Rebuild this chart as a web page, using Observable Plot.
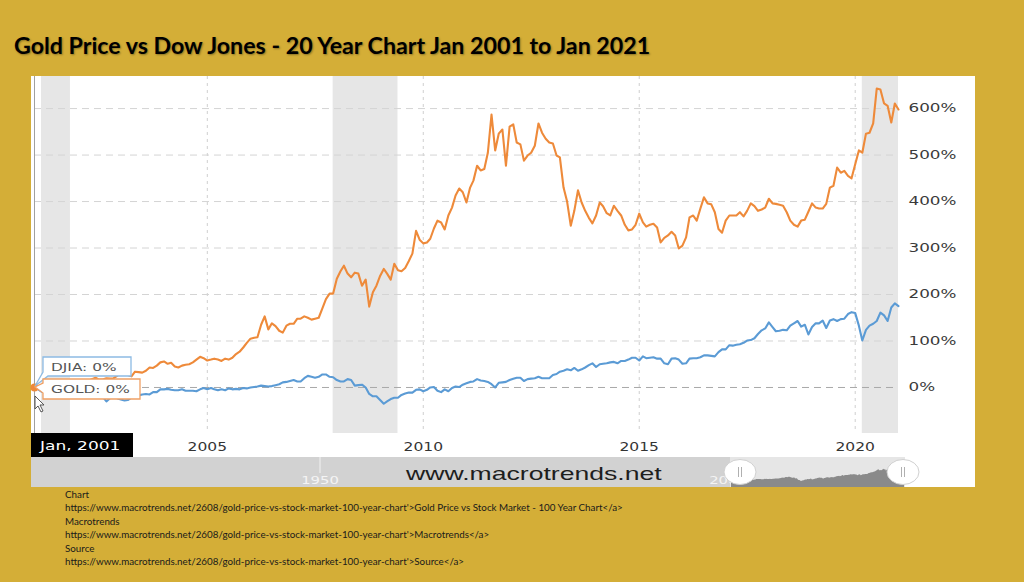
<!DOCTYPE html>
<html><head><meta charset="utf-8">
<script src="https://cdn.jsdelivr.net/npm/d3@7"></script>
<script src="https://cdn.jsdelivr.net/npm/@observablehq/plot@0.6"></script>
<style>
html,body{margin:0;padding:0;}
body{width:1024px;height:582px;background:#d4ae37;position:relative;overflow:hidden;font-family:"DejaVu Sans";}
#title{position:absolute;left:14px;top:31px;font:bold 23.2px Lato;color:#000;text-shadow:1px 1px 2px rgba(0,0,0,0.35);white-space:nowrap;}
#chart{position:absolute;left:31px;top:76px;width:944px;height:411px;background:#fff;}
#chart svg{position:absolute;left:0;top:0;}
#caption{position:absolute;left:65px;top:488px;font:9.8px Lato;line-height:13.4px;color:#1a1a1a;white-space:nowrap;}
</style></head><body>
<div id="title">Gold Price vs Dow Jones - 20 Year Chart Jan 2001 to Jan 2021</div>
<div id="chart"></div>
<div id="caption">Chart<br>https://www.macrotrends.net/2608/gold-price-vs-stock-market-100-year-chart'&gt;Gold Price vs Stock Market - 100 Year Chart&lt;/a&gt;<br>Macrotrends<br>https://www.macrotrends.net/2608/gold-price-vs-stock-market-100-year-chart'&gt;Macrotrends&lt;/a&gt;<br>Source<br>https://www.macrotrends.net/2608/gold-price-vs-stock-market-100-year-chart'&gt;Source&lt;/a&gt;</div>
<script>
// Monthly % change since Jan 2001 (Jan 2001 .. Jan 2021)
const goldPct = [
  0, -1, -1, -2, 3, 2, 1, 3, 7, 7, 4, 4,
  6, 11, 11, 14, 18, 21, 17, 17, 20, 19, 20, 25,
  34, 32, 27, 24, 34, 33, 32, 36, 43, 42, 47, 54,
  56, 51, 53, 45, 43, 47, 49, 50, 54, 60, 66, 63,
  58, 60, 62, 60, 57, 62, 60, 64, 72, 77, 86, 96,
  105, 107, 108, 135, 153, 125, 138, 132, 122, 118, 133, 137,
  137, 148, 148, 153, 150, 146, 148, 150, 170, 190, 202, 202,
  234, 250, 262, 245, 237, 247, 245, 219, 232, 174, 205, 219,
  240, 255, 245, 232, 266, 252, 250, 257, 272, 288, 337, 318,
  310, 312, 320, 342, 359, 355, 340, 370, 387, 413, 428, 420,
  398, 430, 445, 477, 467, 470, 505, 587, 510, 546, 555, 477,
  561, 566, 527, 523, 488, 499, 505, 520, 568, 548, 535, 527,
  525, 499, 495, 430, 400, 348, 380, 424, 398, 380, 365, 353,
  370, 398, 390, 375, 370, 391, 380, 370, 350, 338, 340, 350,
  374, 355, 346, 350, 352, 344, 312, 322, 327, 335, 327, 299,
  305, 323, 366, 370, 359, 385, 409, 396, 394, 377, 341, 333,
  359, 370, 370, 370, 377, 368, 380, 396, 390, 380, 383, 387,
  406, 396, 395, 393, 391, 377, 359, 350, 346, 359, 361, 378,
  396, 387, 385, 385, 395, 430, 434, 473, 462, 466, 455, 450,
  480, 510, 505, 546, 548, 568, 643, 641, 611, 606, 570, 611,
  598
];
const djiaPct = [
  0, -4, -9, -1, 0, -4, -3, -9, -19, -17, -10, -8,
  -9, -7, -4, -9, -9, -15, -20, -20, -30, -23, -18, -23,
  -26, -28, -27, -22, -19, -17, -15, -14, -15, -10, -10, -4,
  -4, -3, -5, -6, -6, -4, -7, -7, -7, -8, -4, -1,
  -4, -1, -4, -6, -4, -6, -2, -4, -3, -4, -1, -2,
  0, 1, 2, 4, 3, 2, 3, 5, 7, 11, 12, 14,
  16, 13, 13, 20, 25, 23, 21, 23, 28, 28, 23, 22,
  16, 13, 13, 18, 16, 4, 5, 6, 0, -14, -19, -19,
  -27, -35, -30, -25, -22, -22, -16, -13, -11, -11, -5, -4,
  -8, -5, 0, 1, -7, -10, -4, -8, -1, 2, 1, 6,
  9, 12, 13, 18, 15, 14, 12, 7, 0, 10, 11, 12,
  16, 19, 21, 21, 14, 18, 19, 20, 23, 20, 20, 20,
  27, 29, 34, 36, 39, 37, 42, 36, 39, 43, 48, 52,
  44, 50, 51, 52, 54, 55, 52, 57, 57, 60, 64, 64,
  58, 67, 63, 64, 65, 62, 62, 52, 50, 62, 63, 60,
  51, 52, 62, 63, 63, 65, 69, 69, 68, 67, 76, 82,
  82, 91, 90, 92, 93, 96, 101, 102, 106, 115, 123, 127,
  140, 130, 121, 122, 124, 123, 133, 138, 143, 131, 135, 114,
  130, 138, 138, 144, 128, 144, 147, 143, 147, 148, 158, 162,
  160, 133, 101, 124, 133, 137, 143, 161, 155, 143, 172, 181,
  175
];
const yTicks = [0, 100, 200, 300, 400, 500, 600];
const xTickYears = [2005, 2010, 2015, 2020];
const recessionStart = ["2001-03-01", "2007-12-01", "2020-03-01"];
const recessionEnd = ["2001-11-01", "2009-06-01", "2021-01-01"];
const goldColor = "#ee8a3a", djiaColor = "#5b9bd5";

const months = d3.utcMonth.range(new Date(Date.UTC(2001, 0, 1)), new Date(Date.UTC(2021, 1, 1)));
const gold = months.map((d, i) => ({date: d, value: goldPct[i]}));
const djia = months.map((d, i) => ({date: d, value: djiaPct[i]}));
const rec = recessionStart.map((s, i) => ({x1: new Date(s), x2: new Date(recessionEnd[i])}));
const xTicks = xTickYears.map(y => new Date(Date.UTC(y, 0, 1)));

const W = 944, H = 411, MB = 54;
const plot = Plot.plot({
  width: W, height: H,
  marginLeft: 3, marginRight: 77, marginTop: 0, marginBottom: MB,
  x: {type: "utc", domain: [months[0], months[months.length - 1]], ticks: xTicks, tickSize: 0, tickPadding: 9,
      tickFormat: d => String(d.getUTCFullYear()), label: null},
  y: {domain: [-99, 669], axis: "right", ticks: yTicks, tickSize: 0, tickPadding: 10, tickFormat: d => d + "%", label: null},
  style: {fontFamily: "DejaVu Sans", background: "transparent", overflow: "visible"},
  marks: [
    Plot.rect(rec, {x1: "x1", x2: "x2", fill: "#e6e6e6"}),
    Plot.ruleX(xTicks, {stroke: "#cfcfcf", strokeDasharray: "3,4"}),
    Plot.ruleY(yTicks.filter(d => d !== 0), {stroke: "#d4d4d4", strokeDasharray: "7,5"}),
    Plot.ruleY([0], {stroke: "#a8a8a8", strokeDasharray: "7,5"}),
    Plot.ruleX([months[0]], {stroke: "#a0a0a0"}),
    Plot.line(djia, {x: "date", y: "value", stroke: djiaColor, strokeWidth: 2.1}),
    Plot.line(gold, {x: "date", y: "value", stroke: goldColor, strokeWidth: 2.1}),
    Plot.dot([{date: months[0], value: 0}], {x: "date", y: "value", r: 4, fill: goldColor})
  ]
});
document.getElementById("chart").appendChild(plot);

// stretch the tick labels (the screenshot is horizontally stretched)
plot.querySelectorAll("text").forEach(t => {
  const s = t.textContent.trim();
  let sc = null;
  if (/^-?\d+%$/.test(s)) { t.setAttribute("font-size", "12"); t.setAttribute("fill", "#3a3a3a"); sc = 1.4; }
  else if (/^20\d\d$/.test(s)) { t.setAttribute("font-size", "11.5"); t.setAttribute("fill", "#333"); sc = 1.35; }
  if (sc) {
    const tr = t.getAttribute("transform") || "";
    t.setAttribute("transform", tr + ` scale(${sc},1)`);
  }
});

const sx = plot.scale("x"), sy = plot.scale("y");
const x0 = sx.apply(months[0]), y0 = sy.apply(0);
const ns = "http://www.w3.org/2000/svg";
function el(tag, attrs, parent, text) {
  const e = document.createElementNS(ns, tag);
  for (const k in attrs) e.setAttribute(k, attrs[k]);
  if (tag === "text" && !attrs["text-anchor"]) e.setAttribute("text-anchor", "start");
  if (text != null) e.textContent = text;
  (parent || plot).appendChild(e);
  return e;
}
const fb = H - MB; // frame bottom

// tooltip boxes
el("path", {d: `M${x0+9},${y0-30} H${x0+97} V${y0-11} H${x0+14} L${x0+1},${y0-1} L${x0+9},${y0-15} Z`,
  fill: "#fff", stroke: "#8dbbe4", "stroke-width": 1.3});
el("text", {x: 0, y: 0, transform: `translate(${x0+17},${y0-16}) scale(1.45,1)`, "font-size": 10.6, fill: "#555",
  "font-family": "DejaVu Sans"}, null, "DJIA: 0%");
el("path", {d: `M${x0+9},${y0-8} H${x0+106} V${y0+12} H${x0+9} V${y0+6} L${x0+1},${y0} L${x0+9},${y0-4} Z`,
  fill: "#fff", stroke: "#f0a064", "stroke-width": 1.3});
el("text", {x: 0, y: 0, transform: `translate(${x0+17},${y0+6}) scale(1.45,1)`, "font-size": 10.6, fill: "#555",
  "font-family": "DejaVu Sans"}, null, "GOLD: 0%");
// mouse cursor
el("path", {d: `M${x0+1},${y0+9} l0,13 l3,-3 l3,6 l2,-1 l-3,-6 l4,0 Z`, fill: "#fff", stroke: "#444", "stroke-width": 0.9});

// date flag
el("rect", {x: 0, y: fb, width: 102, height: 24, fill: "#000"});
el("text", {x: 0, y: 0, transform: `translate(9,${fb+17}) scale(1.42,1)`, "font-size": 12, fill: "#fff",
  "font-family": "DejaVu Sans"}, null, "Jan, 2001");

// navigator strip
const navTop = fb + 24, navH = H - navTop;
el("rect", {x: 0, y: navTop, width: 874, height: navH, fill: "#d2d2d2"});
el("rect", {x: 699, y: navTop, width: 175, height: navH, fill: "#e6e6e6"});
el("line", {x1: 289, x2: 289, y1: navTop, y2: navTop + 16, stroke: "#f2f2f2", "stroke-width": 1});
el("text", {x: 0, y: 0, transform: `translate(289,${navTop+27}) scale(1.35,1)`, "text-anchor": "middle", "font-size": 11,
  fill: "#f4f4f4", "font-family": "DejaVu Sans"}, null, "1950");
el("text", {x: 0, y: 0, transform: `translate(697,${navTop+27}) scale(1.35,1)`, "text-anchor": "middle", "font-size": 11,
  fill: "#f4f4f4", "font-family": "DejaVu Sans"}, null, "2000");

// navigator area via a second Plot
const nav = Plot.plot({
  width: W, height: navH, margin: 0,
  x: {type: "utc", domain: [months[0], months[months.length - 1]], range: [700, 873], axis: null},
  y: {domain: [-120, 313], range: [navH, 0], axis: null},
  style: {background: "transparent"},
  marks: [Plot.areaY(djia, {x: "date", y1: () => -120, y2: "value", fill: "#8a8a8a"})]
});
nav.style.top = navTop + "px";
document.getElementById("chart").appendChild(nav);

// watermark + handles in an overlay svg above navigator
const ov = document.createElementNS(ns, "svg");
ov.setAttribute("width", W); ov.setAttribute("height", H);
ov.style.position = "absolute"; ov.style.left = "0"; ov.style.top = "0"; ov.style.overflow = "visible";
document.getElementById("chart").appendChild(ov);
el("text", {x: 0, y: 0, transform: `translate(375,${navTop+23}) scale(1.4,1)`, "font-size": 19, fill: "#1e1e1e",
  "font-family": "Liberation Sans"}, ov, "www.macrotrends.net");
[709, 872].forEach(cx => {
  el("ellipse", {cx, cy: navTop + 15, rx: 16, ry: 12.5, fill: "#fff", stroke: "#d0d0d0", "stroke-width": 1}, ov);
  el("line", {x1: cx - 1.5, x2: cx - 1.5, y1: navTop + 10, y2: navTop + 20, stroke: "#b0b0b0"}, ov);
  el("line", {x1: cx + 1.5, x2: cx + 1.5, y1: navTop + 10, y2: navTop + 20, stroke: "#b0b0b0"}, ov);
});
</script>
</body></html>
